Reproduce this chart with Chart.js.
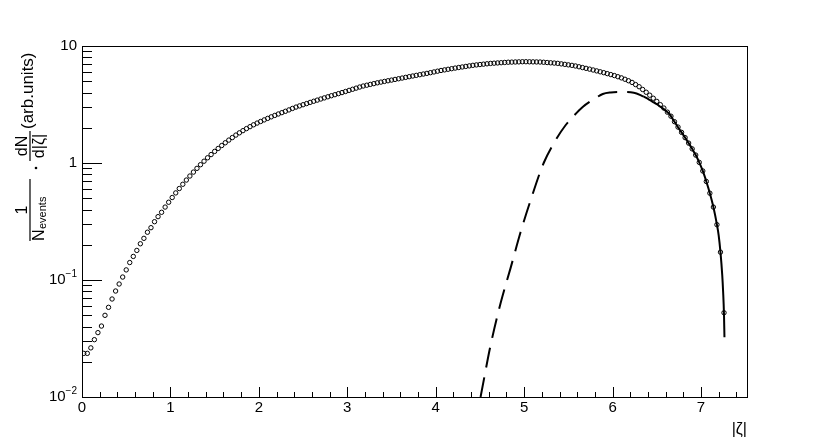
<!DOCTYPE html>
<html>
<head>
<meta charset="utf-8">
<script src="https://cdn.jsdelivr.net/npm/chart.js@4.4.1/dist/chart.umd.min.js"></script>
<style>
  html, body { margin: 0; padding: 0; background: #fff; }
  canvas { display: block; }
</style>
</head>
<body>
<canvas id="zetaChart" width="830" height="440"></canvas>
<script>
// bin centres in |zeta|
const zetaBins = [
  0.02,0.06,0.10,0.14,0.18,0.22,0.26,0.30,0.34,0.38,0.42,0.46,0.50,0.54,0.58,0.62,0.66,0.70,0.74,0.78,0.82,0.86,0.90,0.94,0.98,
  1.02,1.06,1.10,1.14,1.18,1.22,1.26,1.30,1.34,1.38,1.42,1.46,1.50,1.54,1.58,1.62,1.66,1.70,1.74,1.78,1.82,1.86,1.90,1.94,1.98,
  2.02,2.06,2.10,2.14,2.18,2.22,2.26,2.30,2.34,2.38,2.42,2.46,2.50,2.54,2.58,2.62,2.66,2.70,2.74,2.78,2.82,2.86,2.90,2.94,2.98,
  3.02,3.06,3.10,3.14,3.18,3.22,3.26,3.30,3.34,3.38,3.42,3.46,3.50,3.54,3.58,3.62,3.66,3.70,3.74,3.78,3.82,3.86,3.90,3.94,3.98,
  4.02,4.06,4.10,4.14,4.18,4.22,4.26,4.30,4.34,4.38,4.42,4.46,4.50,4.54,4.58,4.62,4.66,4.70,4.74,4.78,4.82,4.86,4.90,4.94,4.98,
  5.02,5.06,5.10,5.14,5.18,5.22,5.26,5.30,5.34,5.38,5.42,5.46,5.50,5.54,5.58,5.62,5.66,5.70,5.74,5.78,5.82,5.86,5.90,5.94,5.98,
  6.02,6.06,6.10,6.14,6.18,6.22,6.26,6.30,6.34,6.38,6.42,6.46,6.50,6.54,6.58,6.62,6.66,6.70,6.74,6.78,6.82,6.86,6.90,6.94,6.98,
  7.02,7.06,7.10,7.14,7.18,7.22,7.26
];
// 1/N dN/d|zeta| per bin
const yieldValues = [
  0.0236,0.0236,0.0263,0.0309,0.0355,0.0404,0.0499,0.0584,0.0688,0.0805,0.0924,0.106,0.122,0.141,0.159,0.179,0.204,0.227,0.256,0.280,0.315,0.348,0.379,0.420,0.462,
  0.507,0.555,0.605,0.658,0.715,0.774,0.836,0.900,0.967,1.036,1.108,1.181,1.256,1.332,1.410,1.489,1.569,1.650,1.732,1.811,1.890,1.968,2.044,2.121,2.194,
  2.264,2.335,2.407,2.480,2.551,2.623,2.694,2.766,2.843,2.926,3.006,3.076,3.148,3.221,3.296,3.371,3.446,3.524,3.601,3.681,3.758,3.836,3.916,3.998,4.085,
  4.175,4.268,4.363,4.459,4.550,4.622,4.695,4.769,4.846,4.913,4.980,5.045,5.112,5.181,5.250,5.321,5.394,5.467,5.540,5.610,5.685,5.759,5.834,5.915,6.001,
  6.090,6.178,6.251,6.324,6.399,6.475,6.550,6.619,6.690,6.763,6.835,6.892,6.943,6.994,7.044,7.096,7.130,7.165,7.200,7.235,7.266,7.283,7.302,7.318,7.337,
  7.340,7.328,7.318,7.308,7.296,7.263,7.224,7.184,7.146,7.105,7.035,6.967,6.899,6.832,6.749,6.645,6.542,6.442,6.342,6.236,6.127,6.020,5.916,5.806,5.697,
  5.589,5.463,5.340,5.196,5.048,4.883,4.681,4.487,4.250,4.025,3.799,3.577,3.364,3.150,2.949,2.720,2.512,2.254,2.028,1.828,1.648,1.479,1.321,1.169,1.012,
  0.855,0.695,0.552,0.420,0.297,0.173,0.0525
];

// fit function, drawn dashed outside the fit range
const fitOutX = [4.507,4.621,4.734,4.847,4.960,5.074,5.221,5.357,5.470,5.549,5.662,5.810,5.889,5.980,6.093,6.240,6.353];
const fitOutY = [0.0100,0.0278,0.0635,0.127,0.257,0.483,1.000,1.574,2.113,2.472,3.013,3.597,3.890,4.009,4.046,3.990,3.690];
// fit function inside the fit range
const fitInX = [6.353,6.40,6.45,6.50,6.55,6.60,6.65,6.70,6.74,6.78,6.82,6.86,6.90,6.94,6.98,7.02,7.06,7.10,7.14,7.18,7.20,7.22,7.24,7.25,7.26,7.265];
const fitInY = [3.690,3.532,3.350,3.184,2.992,2.799,2.582,2.249,2.023,1.828,1.648,1.479,1.321,1.169,1.012,0.855,0.695,0.552,0.420,0.297,0.240,0.173,0.110,0.0794,0.0501,0.0324];

// axis ticks
const xMajorTicks = [0, 1, 2, 3, 4, 5, 6, 7];
const xTickLabels = ['0', '1', '2', '3', '4', '5', '6', '7'];
const yMajorTicks = [0.01, 0.1, 1, 10];
const yTickLabels = [['10', '\u22122'], ['10', '\u22121'], ['1', ''], ['10', '']];

const FONT = 'Liberation Sans, Arial, sans-serif';

const toXY = (xs, ys) => xs.map((x, i) => ({ x: x, y: ys[i] }));

// frame, inward ticks and labels in ROOT style
const rootFrame = {
  id: 'rootFrame',
  afterDraw(chart) {
    const ctx = chart.ctx;
    const a = chart.chartArea;
    const sx = chart.scales.x;
    const sy = chart.scales.y;
    ctx.save();
    ctx.strokeStyle = '#000';
    ctx.lineWidth = 1;
    ctx.strokeRect(Math.round(a.left) + 0.5, Math.round(a.top) + 0.5, Math.round(a.right - a.left), Math.round(a.bottom - a.top));

    ctx.beginPath();
    // x ticks
    for (let v = 0; v <= sx.max + 1e-9; v += 0.2) {
      const px = Math.round(sx.getPixelForValue(v)) + 0.5;
      const major = Math.abs(v - Math.round(v)) < 1e-6;
      ctx.moveTo(px, a.bottom);
      ctx.lineTo(px, a.bottom - (major ? 10 : 5));
    }
    // y ticks
    for (let d = 0; d < yMajorTicks.length; d++) {
      const base = yMajorTicks[d];
      const py = Math.round(sy.getPixelForValue(base)) + 0.5;
      ctx.moveTo(a.left, py);
      ctx.lineTo(a.left + 20, py);
      if (d < yMajorTicks.length - 1) {
        for (let m = 2; m <= 9; m++) {
          const pm = Math.round(sy.getPixelForValue(base * m)) + 0.5;
          ctx.moveTo(a.left, pm);
          ctx.lineTo(a.left + 10, pm);
        }
      }
    }
    ctx.stroke();

    ctx.fillStyle = '#000';
    ctx.font = '15px ' + FONT;
    ctx.textAlign = 'center';
    ctx.textBaseline = 'top';
    xMajorTicks.forEach((v, i) => {
      ctx.fillText(xTickLabels[i], sx.getPixelForValue(v), a.bottom + 3);
    });

    ctx.textBaseline = 'middle';
    yMajorTicks.forEach((v, i) => {
      const py = sy.getPixelForValue(v);
      const [txt, sup] = yTickLabels[i];
      let right = a.left - 5;
      if (sup) {
        ctx.font = '10px ' + FONT;
        ctx.textAlign = 'right';
        ctx.fillText(sup, right, py - 6);
        right -= ctx.measureText(sup).width;
      }
      ctx.font = '15px ' + FONT;
      ctx.textAlign = 'right';
      ctx.fillText(txt, right, py);
    });

    // x title
    ctx.font = '16px ' + FONT;
    ctx.textAlign = 'right';
    ctx.textBaseline = 'alphabetic';
    ctx.fillText('|\u03b6|', a.right, 434);

    // y title, rotated
    ctx.translate(30, 0);
    ctx.rotate(-Math.PI / 2);
    ctx.lineWidth = 1.2;
    ctx.beginPath();
    ctx.moveTo(-241, 0); ctx.lineTo(-179, 0);
    ctx.moveTo(-161, 0); ctx.lineTo(-131, 0);
    ctx.stroke();
    ctx.font = '16px ' + FONT;
    ctx.textAlign = 'center';
    ctx.fillText('1', -210, -3);
    ctx.fillText('dN', -146, -3);
    ctx.fillText('d|\u03b6|', -146, 14);
    ctx.textAlign = 'left';
    ctx.fillText('N', -241, 14);
    ctx.font = '11px ' + FONT;
    ctx.fillText('events', -229, 16);
    ctx.beginPath();
    ctx.arc(-168, 6, 1.3, 0, Math.PI * 2);
    ctx.fill();
    ctx.font = '17px ' + FONT;
    ctx.textBaseline = 'middle';
    ctx.fillText('(arb.units)', -129, -2);
    ctx.restore();
  }
};

new Chart(document.getElementById('zetaChart').getContext('2d'), {
  type: 'line',
  data: {
    datasets: [
      {
        label: 'fit',
        data: toXY(fitInX, fitInY),
        borderColor: '#000',
        borderWidth: 2,
        pointRadius: 0,
        cubicInterpolationMode: 'monotone',
        order: 0
      },
      {
        label: 'fit extrapolated',
        data: toXY(fitOutX, fitOutY),
        borderColor: '#000',
        borderWidth: 2,
        borderDash: [20, 10],
        pointRadius: 0,
        cubicInterpolationMode: 'monotone',
        order: 1
      },
      {
        label: 'data',
        data: toXY(zetaBins, yieldValues),
        showLine: false,
        pointStyle: 'circle',
        pointRadius: 2.2,
        pointBorderWidth: 1,
        pointBorderColor: '#000',
        pointBackgroundColor: 'rgba(255,255,255,0)',
        order: 2
      }
    ]
  },
  options: {
    responsive: false,
    animation: false,
    devicePixelRatio: 1,
    layout: { padding: { left: 0, right: 83, top: 46, bottom: 0 } },
    plugins: {
      legend: { display: false },
      tooltip: { enabled: false }
    },
    scales: {
      x: {
        type: 'linear',
        min: 0,
        max: 7.52,
        grid: { display: false },
        border: { display: false },
        ticks: { display: false },
        afterFit: (scale) => { scale.height = 43; }
      },
      y: {
        type: 'logarithmic',
        min: 0.01,
        max: 10,
        grid: { display: false },
        border: { display: false },
        ticks: { display: false },
        afterFit: (scale) => { scale.width = 82; }
      }
    }
  },
  plugins: [rootFrame]
});
</script>
</body>
</html>
